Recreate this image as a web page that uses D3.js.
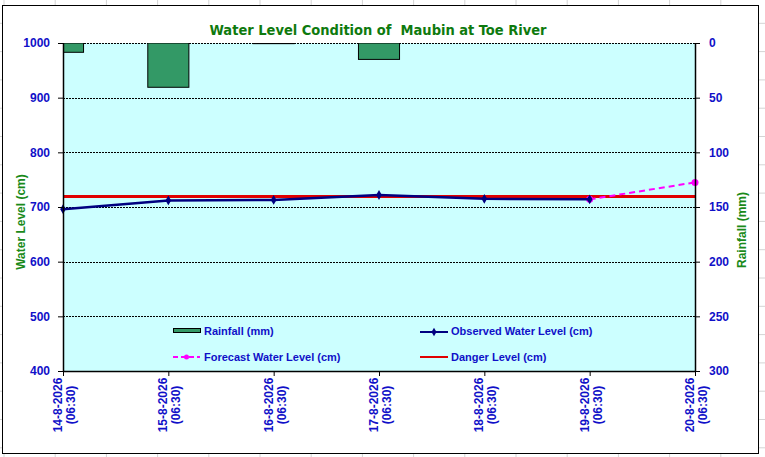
<!DOCTYPE html>
<html>
<head>
<meta charset="utf-8" />
<title>Water Level Condition of Maubin at Toe River</title>
<script src="https://cdn.jsdelivr.net/npm/d3@7"></script>
<style>
  body { margin: 0; background: #fff; }
  svg { display: block; font-family: "Liberation Sans", Arial, sans-serif; }
</style>
</head>
<body>
<div id="chart"></div>
<script>
// data
var dates = ["14-8-2026", "15-8-2026", "16-8-2026", "17-8-2026", "18-8-2026", "19-8-2026", "20-8-2026"];
var rainfall = [8.5, 40.5, 0.6, 15, 0, 0, 0];
var observed = [696, 712, 713, 722, 715, 714];
var forecast = [null, null, null, null, null, 714, 745];
var danger = 719;
var levelTicks = [400, 500, 600, 700, 800, 900, 1000];
var rainTicks = [0, 50, 100, 150, 200, 250, 300];

var W = 765, H = 457;
var pL = 63, pR = 695, pT = 43, pB = 371;
var blue = "#1010c8", green = "#1a8a1a";

var svg = d3.select("#chart").append("svg").attr("width", W).attr("height", H);

// faint spreadsheet grid behind the chart object
var sheet = svg.append("g").attr("stroke", "#d4d4d4").attr("stroke-width", 1);
d3.range(4, W, 51.2).forEach(function(x) {
  sheet.append("line").attr("x1", x).attr("x2", x).attr("y1", 0).attr("y2", H);
});
d3.range(-5, H, 28.3).forEach(function(y) {
  sheet.append("line").attr("x1", 0).attr("x2", W).attr("y1", y).attr("y2", y);
});

// chart object
svg.append("rect").attr("x", 2.5).attr("y", 5.5).attr("width", 756).attr("height", 448)
  .attr("fill", "#fff").attr("stroke", "#000").attr("stroke-width", 1);

var x = d3.scalePoint().domain(dates).range([pL, pR]);
var yL = d3.scaleLinear().domain([400, 1000]).range([pB, pT]);
var yR = d3.scaleLinear().domain([0, 300]).range([pT, pB]);

svg.append("defs").append("clipPath").attr("id", "plot")
  .append("rect").attr("x", pL).attr("y", pT).attr("width", pR - pL).attr("height", pB - pT);

svg.append("rect").attr("x", pL).attr("y", pT).attr("width", pR - pL).attr("height", pB - pT)
  .attr("fill", "#ccffff");

// gridlines
svg.append("g").selectAll("line").data(levelTicks.slice(1)).enter().append("line")
  .attr("x1", pL).attr("x2", pR)
  .attr("y1", function(d) { return Math.round(yL(d)) + 0.5; })
  .attr("y2", function(d) { return Math.round(yL(d)) + 0.5; })
  .attr("stroke", "#000").attr("stroke-width", 1).attr("stroke-dasharray", "2,1");

// rainfall bars hanging from the top
var bw = x.step() * 0.39;
svg.append("g").attr("clip-path", "url(#plot)").selectAll("rect")
  .data(rainfall.map(function(v, i) { return { d: dates[i], v: v }; }).filter(function(p) { return p.v > 0; }))
  .enter().append("rect")
  .attr("x", function(p) { return x(p.d) - bw / 2; })
  .attr("y", pT)
  .attr("width", bw)
  .attr("height", function(p) { return yR(p.v) - pT; })
  .attr("fill", "#339966").attr("stroke", "#000").attr("stroke-width", 1);

// danger level
svg.append("line").attr("x1", pL).attr("x2", pR)
  .attr("y1", yL(danger)).attr("y2", yL(danger))
  .attr("stroke", "#e00000").attr("stroke-width", 3);

// forecast
var fpts = forecast.map(function(v, i) { return { d: dates[i], v: v }; }).filter(function(p) { return p.v != null; });
svg.append("path").datum(fpts)
  .attr("d", d3.line().x(function(p) { return x(p.d); }).y(function(p) { return yL(p.v); }))
  .attr("fill", "none").attr("stroke", "#ff00ff").attr("stroke-width", 2).attr("stroke-dasharray", "6,4");
svg.append("g").selectAll("circle").data(fpts).enter().append("circle")
  .attr("cx", function(p) { return x(p.d); }).attr("cy", function(p) { return yL(p.v); })
  .attr("r", 3.5).attr("fill", "#ff00ff");

// observed
var opts = observed.map(function(v, i) { return { d: dates[i], v: v }; });
svg.append("path").datum(opts)
  .attr("d", d3.line().x(function(p) { return x(p.d); }).y(function(p) { return yL(p.v); }))
  .attr("fill", "none").attr("stroke", "#000080").attr("stroke-width", 2.5);
svg.append("g").selectAll("path").data(opts).enter().append("path")
  .attr("d", d3.symbol().type(d3.symbolDiamond).size(28))
  .attr("transform", function(p) { return "translate(" + x(p.d) + "," + yL(p.v) + ")"; })
  .attr("fill", "#000080");

// axes
var axL = svg.append("g").attr("transform", "translate(" + pL + ",0)")
  .call(d3.axisLeft(yL).tickValues(levelTicks).tickFormat(d3.format("d")).tickSize(5).tickPadding(8));
var axR = svg.append("g").attr("transform", "translate(" + pR + ",0)")
  .call(d3.axisRight(yR).tickValues(rainTicks).tickFormat(d3.format("d")).tickSize(5).tickPadding(9));
var axB = svg.append("g").attr("transform", "translate(0," + pB + ")")
  .call(d3.axisBottom(x).tickSize(5).tickFormat(""));
[axL, axR, axB].forEach(function(a) {
  a.select(".domain").attr("stroke", "#000").attr("stroke-width", 1.5);
  a.selectAll(".tick line").attr("stroke", "#000");
  a.selectAll("text").attr("fill", blue).attr("font-size", 12).attr("font-weight", "bold")
    .attr("font-family", "'Liberation Sans', Arial, sans-serif");
});
axL.select(".domain").attr("d", "M0.5," + pT + "V" + pB);
axR.select(".domain").attr("d", "M0.5," + pT + "V" + pB);
axB.select(".domain").attr("d", "M" + pL + ",0.5H" + pR);

// date labels, two lines, rotated
var lab = svg.append("g").selectAll("text").data(dates).enter().append("text")
  .attr("transform", function(d) { return "translate(" + x(d) + ",405) rotate(-90)"; })
  .attr("text-anchor", "middle").attr("fill", blue)
  .attr("font-size", 12).attr("font-weight", "bold");
lab.append("tspan").attr("x", 0).attr("y", -1).text(function(d) { return d; });
lab.append("tspan").attr("x", 0).attr("y", 12).text("(06:30)");

// titles
svg.append("text").attr("x", 378).attr("y", 35).attr("text-anchor", "middle")
  .attr("fill", "#0e7a0e").attr("font-size", 14.5).attr("font-weight", "bold")
  .attr("font-family", "'DejaVu Sans Condensed', 'Liberation Sans', sans-serif")
  .attr("xml:space", "preserve")
  .text("Water Level Condition of  Maubin at Toe River");
svg.append("text").attr("transform", "translate(25,222) rotate(-90)").attr("text-anchor", "middle")
  .attr("fill", green).attr("font-size", 12).attr("font-weight", "bold").text("Water Level (cm)");
svg.append("text").attr("transform", "translate(746,230) rotate(-90)").attr("text-anchor", "middle")
  .attr("fill", green).attr("font-size", 12).attr("font-weight", "bold").text("Rainfall (mm)");

// legend
var leg = svg.append("g").attr("fill", blue).attr("font-size", 11).attr("font-weight", "bold");
leg.append("rect").attr("x", 173.5).attr("y", 328.5).attr("width", 27).attr("height", 4)
  .attr("fill", "#339966").attr("stroke", "#000");
leg.append("text").attr("x", 204).attr("y", 335).text("Rainfall (mm)");
leg.append("line").attr("x1", 173).attr("x2", 200).attr("y1", 357).attr("y2", 357)
  .attr("stroke", "#ff00ff").attr("stroke-width", 2).attr("stroke-dasharray", "5,3");
leg.append("circle").attr("cx", 186.5).attr("cy", 357).attr("r", 2.5).attr("fill", "#ff00ff");
leg.append("text").attr("x", 204).attr("y", 361).text("Forecast Water Level (cm)");
leg.append("line").attr("x1", 420).attr("x2", 448).attr("y1", 332).attr("y2", 332)
  .attr("stroke", "#000080").attr("stroke-width", 2);
leg.append("path").attr("d", d3.symbol().type(d3.symbolDiamond).size(22))
  .attr("transform", "translate(434,332)").attr("fill", "#000080");
leg.append("text").attr("x", 451).attr("y", 335).text("Observed Water Level (cm)");
leg.append("line").attr("x1", 420).attr("x2", 448).attr("y1", 357).attr("y2", 357)
  .attr("stroke", "#e00000").attr("stroke-width", 2);
leg.append("text").attr("x", 451).attr("y", 361).text("Danger Level (cm)");
</script>
</body>
</html>
